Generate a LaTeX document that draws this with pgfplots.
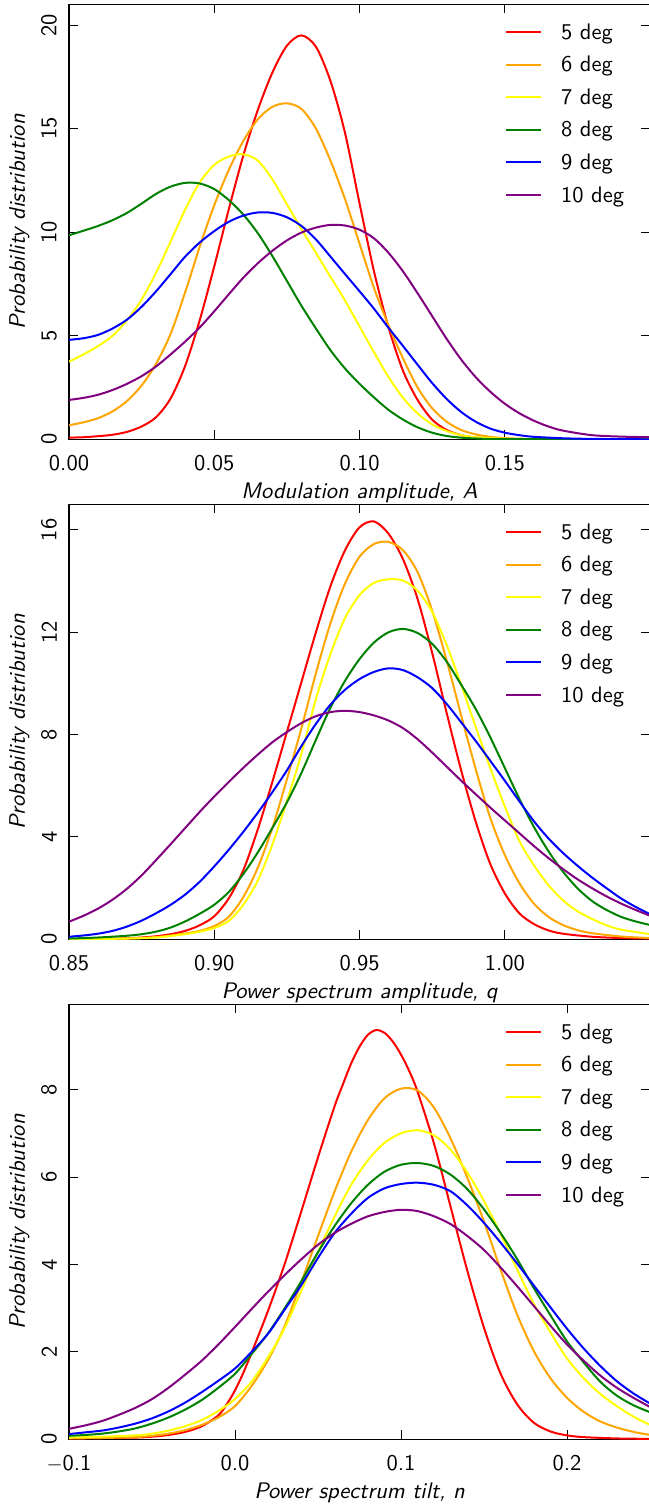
\documentclass[border=0pt]{standalone}
\usepackage{fontspec}
\setsansfont{lmsans10}[Extension=.otf, UprightFont=*-regular, ItalicFont=*-oblique, BoldFont=*-bold, BoldItalicFont=*-boldoblique]
\renewcommand{\familydefault}{\sfdefault}
\usepackage{pgfplots}
\pgfplotsset{compat=1.18}
\definecolor{cRed}{RGB}{255,0,0}
\definecolor{cOrange}{RGB}{255,165,0}
\definecolor{cYellow}{RGB}{255,255,0}
\definecolor{cGreen}{RGB}{0,128,0}
\definecolor{cBlue}{RGB}{0,0,255}
\definecolor{cPurple}{RGB}{128,0,128}
\newcommand{\fs}{\fontsize{22.5bp}{27bp}\selectfont}
\pgfplotsset{
  panel/.style={
    scale only axis, width=581bp, height=435bp,
    axis line style={line width=1.5bp},
    tick align=inside, major tick length=9bp,
    every tick/.style={black, line width=1bp},
    tick label style={font=\fs, inner sep=0pt},
    label style={font=\fs\itshape, inner sep=0pt},
    xticklabel style={anchor=north},
    xticklabel shift=16bp,
    yticklabel style={rotate=90, anchor=south},
    yticklabel shift=12bp,
    xlabel style={at={(axis description cs:0.5,0)}, anchor=base, yshift=-59.2bp},
    ylabel style={at={(axis description cs:-0.1033,0.5)}, anchor=north},
    ylabel={Probability distribution},
    legend cell align=left,
    legend image code/.code={\draw[#1, line width=2bp] (0bp,0bp) -- (35bp,0bp);},
    legend style={font=\fs, draw=none, fill=none, at={(axis description cs:0.7504,1)}, anchor=north west, yshift=-17bp, inner sep=0pt, row sep=11.5bp,
      /tikz/every odd column/.append style={column sep=17bp}},
    every axis plot/.append style={line width=2bp, smooth, tension=0.5},
  }
}
\begin{document}
\begin{tikzpicture}[x=1bp,y=1bp]
% ---------------- Panel 1 ----------------
\begin{axis}[panel, at={(69bp,-439.3bp)}, anchor=south west,
  xmin=0, xmax=0.2, ymin=0, ymax=21,
  xtick={0,0.05,0.1,0.15}, xticklabels={0.00,0.05,0.10,0.15},
  ytick={0,5,10,15,20}, yticklabels={0,5,10,15,20},
  xlabel={Modulation amplitude, A}]
\addplot[cRed] coordinates {(0,0.08)(0.005,0.10)(0.01,0.15)(0.015,0.22)(0.02,0.36)(0.025,0.62)(0.03,1.07)(0.035,1.98)(0.04,3.55)(0.045,5.75)(0.05,8.35)(0.055,11.1)(0.06,13.7)(0.065,15.9)(0.07,17.7)(0.075,19.0)(0.08,19.5)(0.085,18.95)(0.09,17.3)(0.095,14.8)(0.1,11.4)(0.105,8.1)(0.11,5.4)(0.115,3.3)(0.12,1.9)(0.125,0.95)(0.13,0.45)(0.135,0.2)(0.14,0.09)(0.15,0.02)(0.16,0)(0.2,0)};
\addlegendentry{5 deg}
\addplot[cOrange] coordinates {(0,0.68)(0.005,0.82)(0.01,1.02)(0.015,1.35)(0.02,1.85)(0.025,2.6)(0.03,3.65)(0.035,5.1)(0.04,7.1)(0.045,9.3)(0.05,11.3)(0.055,13.0)(0.06,14.4)(0.065,15.45)(0.07,16.05)(0.075,16.22)(0.08,15.95)(0.085,15.0)(0.09,13.45)(0.095,11.6)(0.1,9.45)(0.105,7.3)(0.11,5.5)(0.115,3.9)(0.12,2.5)(0.125,1.5)(0.13,0.85)(0.135,0.45)(0.14,0.24)(0.145,0.12)(0.15,0.06)(0.16,0.02)(0.2,0)};
\addlegendentry{6 deg}
\addplot[cYellow] coordinates {(0,3.75)(0.005,4.1)(0.01,4.5)(0.015,5.0)(0.02,5.75)(0.025,6.75)(0.03,8.05)(0.035,9.55)(0.04,11.1)(0.045,12.4)(0.05,13.25)(0.055,13.65)(0.06,13.76)(0.065,13.45)(0.07,12.55)(0.075,11.35)(0.08,10.15)(0.085,9.0)(0.09,7.85)(0.095,6.7)(0.1,5.45)(0.105,4.2)(0.11,3.0)(0.115,2.0)(0.12,1.25)(0.125,0.72)(0.13,0.4)(0.135,0.2)(0.14,0.1)(0.15,0.03)(0.16,0)(0.2,0)};
\addlegendentry{7 deg}
\addplot[cGreen] coordinates {(0,9.85)(0.005,10.07)(0.01,10.3)(0.015,10.58)(0.02,10.93)(0.025,11.38)(0.03,11.85)(0.035,12.2)(0.04,12.38)(0.045,12.35)(0.05,12.08)(0.055,11.55)(0.06,10.85)(0.065,9.95)(0.07,8.85)(0.075,7.65)(0.08,6.45)(0.085,5.35)(0.09,4.3)(0.095,3.42)(0.1,2.68)(0.105,2.02)(0.11,1.42)(0.115,0.95)(0.12,0.58)(0.125,0.32)(0.13,0.16)(0.135,0.08)(0.14,0.04)(0.15,0.01)(0.2,0)};
\addlegendentry{8 deg}
\addplot[cBlue] coordinates {(0,4.8)(0.005,4.88)(0.01,5.04)(0.015,5.35)(0.02,5.78)(0.025,6.4)(0.03,7.15)(0.035,7.98)(0.04,8.82)(0.045,9.5)(0.05,10.05)(0.055,10.5)(0.06,10.8)(0.065,10.95)(0.07,10.93)(0.075,10.72)(0.08,10.3)(0.085,9.65)(0.09,8.82)(0.095,7.98)(0.1,7.15)(0.105,6.3)(0.11,5.38)(0.115,4.5)(0.12,3.6)(0.125,2.72)(0.13,1.95)(0.135,1.32)(0.14,0.85)(0.145,0.52)(0.15,0.32)(0.155,0.2)(0.16,0.12)(0.17,0.05)(0.18,0.02)(0.2,0)};
\addlegendentry{9 deg}
\addplot[cPurple] coordinates {(0,1.9)(0.005,2.0)(0.01,2.15)(0.015,2.38)(0.02,2.68)(0.025,3.05)(0.03,3.52)(0.035,4.1)(0.04,4.72)(0.045,5.4)(0.05,6.18)(0.055,7.0)(0.06,7.8)(0.065,8.5)(0.07,9.1)(0.075,9.6)(0.08,9.98)(0.085,10.22)(0.09,10.35)(0.095,10.32)(0.1,10.12)(0.105,9.7)(0.11,9.0)(0.115,8.1)(0.12,7.05)(0.125,5.95)(0.13,4.85)(0.135,3.85)(0.14,3.0)(0.145,2.3)(0.15,1.72)(0.155,1.26)(0.16,0.9)(0.165,0.62)(0.17,0.42)(0.18,0.2)(0.19,0.13)(0.2,0.1)};
\addlegendentry{10 deg}
\end{axis}
% ---------------- Panel 2 ----------------
\begin{axis}[panel, at={(69bp,-939.3bp)}, anchor=south west,
  xmin=0.85, xmax=1.05, ymin=0, ymax=17,
  xtick={0.85,0.9,0.95,1.0}, xticklabels={0.85,0.90,0.95,1.00},
  ytick={0,4,8,12,16}, yticklabels={0,4,8,12,16},
  xlabel={Power spectrum amplitude, q}]
\addplot[cRed] coordinates {(0.85,0)(0.86,0.01)(0.87,0.04)(0.875,0.07)(0.88,0.12)(0.885,0.2)(0.89,0.33)(0.895,0.55)(0.9,0.9)(0.905,1.6)(0.91,2.7)(0.915,4.3)(0.92,6.15)(0.925,8.1)(0.93,10.05)(0.935,12.0)(0.94,13.8)(0.945,15.2)(0.95,16.1)(0.955,16.33)(0.96,15.85)(0.965,14.85)(0.97,13.3)(0.975,11.2)(0.98,8.85)(0.985,6.6)(0.99,4.6)(0.995,2.95)(1.0,1.8)(1.005,1.02)(1.01,0.6)(1.015,0.35)(1.02,0.22)(1.03,0.1)(1.04,0.05)(1.05,0.03)};
\addlegendentry{5 deg}
\addplot[cOrange] coordinates {(0.85,0)(0.87,0.03)(0.88,0.09)(0.885,0.15)(0.89,0.23)(0.895,0.33)(0.9,0.52)(0.905,0.88)(0.91,1.65)(0.915,2.8)(0.92,4.35)(0.925,6.25)(0.93,8.25)(0.935,10.4)(0.94,12.35)(0.945,13.9)(0.95,14.95)(0.955,15.45)(0.96,15.53)(0.965,15.2)(0.97,14.35)(0.975,12.85)(0.98,10.9)(0.985,8.75)(0.99,6.65)(0.995,4.75)(1.0,3.3)(1.005,2.2)(1.01,1.4)(1.015,0.88)(1.02,0.56)(1.025,0.36)(1.03,0.24)(1.04,0.11)(1.05,0.05)};
\addlegendentry{6 deg}
\addplot[cYellow] coordinates {(0.85,0)(0.87,0.03)(0.88,0.07)(0.89,0.2)(0.895,0.3)(0.9,0.44)(0.905,0.72)(0.91,1.35)(0.915,2.3)(0.92,3.7)(0.925,5.4)(0.93,7.25)(0.935,9.4)(0.94,11.15)(0.945,12.55)(0.95,13.45)(0.955,13.93)(0.96,14.07)(0.965,14.02)(0.97,13.62)(0.975,12.8)(0.98,11.5)(0.985,9.95)(0.99,8.3)(0.995,6.7)(1.0,5.2)(1.005,3.85)(1.01,2.9)(1.015,2.12)(1.02,1.53)(1.025,1.1)(1.03,0.8)(1.035,0.55)(1.04,0.38)(1.05,0.2)};
\addlegendentry{7 deg}
\addplot[cGreen] coordinates {(0.85,0.03)(0.86,0.07)(0.87,0.14)(0.875,0.2)(0.88,0.3)(0.885,0.46)(0.89,0.7)(0.895,1.0)(0.9,1.35)(0.905,1.85)(0.91,2.55)(0.915,3.4)(0.92,4.35)(0.925,5.35)(0.93,6.5)(0.935,7.8)(0.94,9.05)(0.945,10.1)(0.95,10.95)(0.955,11.6)(0.96,12.0)(0.965,12.13)(0.97,11.97)(0.975,11.55)(0.98,10.85)(0.985,9.95)(0.99,9.0)(0.995,7.9)(1.0,6.7)(1.005,5.5)(1.01,4.4)(1.015,3.45)(1.02,2.65)(1.025,2.0)(1.03,1.5)(1.035,1.15)(1.04,0.88)(1.045,0.7)(1.05,0.56)};
\addlegendentry{8 deg}
\addplot[cBlue] coordinates {(0.85,0.1)(0.855,0.15)(0.86,0.22)(0.865,0.33)(0.87,0.5)(0.875,0.73)(0.88,1.02)(0.885,1.35)(0.89,1.75)(0.895,2.25)(0.9,2.85)(0.905,3.5)(0.91,4.2)(0.915,4.95)(0.92,5.75)(0.925,6.6)(0.93,7.55)(0.935,8.42)(0.94,9.17)(0.945,9.75)(0.95,10.17)(0.955,10.45)(0.96,10.59)(0.965,10.52)(0.97,10.24)(0.975,9.82)(0.98,9.2)(0.985,8.48)(0.99,7.75)(0.995,6.98)(1.0,6.2)(1.005,5.4)(1.01,4.62)(1.015,3.95)(1.02,3.38)(1.025,2.88)(1.03,2.42)(1.035,2.0)(1.04,1.6)(1.045,1.27)(1.05,0.98)};
\addlegendentry{9 deg}
\addplot[cPurple] coordinates {(0.85,0.69)(0.855,0.92)(0.86,1.2)(0.865,1.55)(0.87,1.98)(0.875,2.5)(0.88,3.1)(0.885,3.72)(0.89,4.35)(0.895,4.98)(0.9,5.58)(0.905,6.15)(0.91,6.7)(0.915,7.22)(0.92,7.7)(0.925,8.1)(0.93,8.45)(0.935,8.72)(0.94,8.88)(0.945,8.93)(0.95,8.88)(0.955,8.75)(0.96,8.55)(0.965,8.25)(0.97,7.82)(0.975,7.3)(0.98,6.75)(0.985,6.2)(0.99,5.67)(0.995,5.15)(1.0,4.65)(1.005,4.15)(1.01,3.65)(1.015,3.18)(1.02,2.75)(1.025,2.35)(1.03,2.0)(1.035,1.68)(1.04,1.4)(1.045,1.15)(1.05,0.92)};
\addlegendentry{10 deg}
\end{axis}
% ---------------- Panel 3 ----------------
\begin{axis}[panel, at={(69bp,-1439.3bp)}, anchor=south west,
  xmin=-0.1, xmax=0.25, ymin=0, ymax=9.95,
  xtick={-0.1,0,0.1,0.2}, xticklabels={$-$0.1,0.0,0.1,0.2},
  ytick={0,2,4,6,8}, yticklabels={0,2,4,6,8},
  xlabel={Power spectrum tilt, n}]
\addplot[cRed] coordinates {(-0.1,0.02)(-0.08,0.03)(-0.06,0.04)(-0.05,0.06)(-0.04,0.1)(-0.03,0.17)(-0.02,0.3)(-0.01,0.55)(-0.005,0.8)(0,1.12)(0.005,1.52)(0.01,1.98)(0.02,2.95)(0.03,4.02)(0.04,5.22)(0.05,6.45)(0.06,7.62)(0.065,8.12)(0.07,8.6)(0.075,8.98)(0.08,9.25)(0.085,9.36)(0.09,9.3)(0.095,9.1)(0.1,8.8)(0.105,8.42)(0.11,7.95)(0.12,6.75)(0.13,5.3)(0.14,3.85)(0.15,2.55)(0.16,1.5)(0.17,0.8)(0.18,0.38)(0.19,0.18)(0.2,0.09)(0.21,0.05)(0.23,0.02)(0.25,0.01)};
\addlegendentry{5 deg}
\addplot[cOrange] coordinates {(-0.1,0.02)(-0.08,0.03)(-0.06,0.05)(-0.05,0.08)(-0.04,0.13)(-0.03,0.21)(-0.02,0.33)(-0.01,0.5)(0,0.76)(0.01,1.22)(0.02,1.82)(0.03,2.6)(0.04,3.6)(0.05,4.65)(0.06,5.67)(0.07,6.58)(0.08,7.3)(0.09,7.8)(0.1,8.02)(0.11,7.98)(0.12,7.58)(0.13,6.87)(0.14,5.98)(0.15,4.98)(0.16,3.88)(0.17,2.85)(0.18,2.02)(0.19,1.4)(0.2,0.95)(0.21,0.63)(0.22,0.41)(0.23,0.27)(0.24,0.17)(0.25,0.1)};
\addlegendentry{6 deg}
\addplot[cYellow] coordinates {(-0.1,0.04)(-0.08,0.06)(-0.06,0.09)(-0.05,0.13)(-0.04,0.2)(-0.03,0.3)(-0.02,0.44)(-0.01,0.65)(0,0.92)(0.01,1.32)(0.02,1.88)(0.03,2.55)(0.04,3.4)(0.05,4.28)(0.06,5.1)(0.07,5.82)(0.08,6.38)(0.09,6.78)(0.1,7.0)(0.11,7.07)(0.12,6.95)(0.13,6.62)(0.14,6.1)(0.15,5.45)(0.16,4.7)(0.17,3.88)(0.18,3.1)(0.19,2.45)(0.2,1.85)(0.21,1.4)(0.22,1.04)(0.23,0.76)(0.24,0.52)(0.25,0.33)};
\addlegendentry{7 deg}
\addplot[cGreen] coordinates {(-0.1,0.08)(-0.09,0.1)(-0.08,0.13)(-0.07,0.18)(-0.06,0.25)(-0.05,0.36)(-0.04,0.5)(-0.03,0.68)(-0.02,0.9)(-0.01,1.18)(0,1.5)(0.01,1.95)(0.02,2.43)(0.03,3.0)(0.04,3.62)(0.05,4.28)(0.06,4.88)(0.07,5.4)(0.08,5.82)(0.09,6.12)(0.1,6.28)(0.11,6.32)(0.12,6.25)(0.13,6.05)(0.14,5.72)(0.15,5.26)(0.16,4.72)(0.17,4.12)(0.18,3.46)(0.19,2.84)(0.2,2.24)(0.21,1.76)(0.22,1.32)(0.23,1.0)(0.24,0.78)(0.25,0.62)};
\addlegendentry{8 deg}
\addplot[cBlue] coordinates {(-0.1,0.12)(-0.09,0.16)(-0.08,0.2)(-0.07,0.27)(-0.06,0.36)(-0.05,0.48)(-0.04,0.64)(-0.03,0.84)(-0.02,1.08)(-0.01,1.34)(0,1.62)(0.01,2.0)(0.02,2.42)(0.03,2.97)(0.04,3.53)(0.05,4.15)(0.06,4.72)(0.07,5.16)(0.08,5.52)(0.09,5.74)(0.1,5.84)(0.11,5.87)(0.12,5.82)(0.13,5.67)(0.14,5.35)(0.15,4.95)(0.16,4.5)(0.17,4.02)(0.18,3.52)(0.19,3.02)(0.2,2.53)(0.21,2.08)(0.22,1.68)(0.23,1.33)(0.24,1.05)(0.25,0.82)};
\addlegendentry{9 deg}
\addplot[cPurple] coordinates {(-0.1,0.24)(-0.09,0.32)(-0.08,0.42)(-0.07,0.56)(-0.06,0.72)(-0.05,0.92)(-0.04,1.18)(-0.03,1.48)(-0.02,1.8)(-0.01,2.17)(0,2.57)(0.01,2.98)(0.02,3.38)(0.03,3.76)(0.04,4.12)(0.05,4.45)(0.06,4.72)(0.07,4.93)(0.08,5.1)(0.09,5.2)(0.1,5.25)(0.11,5.22)(0.12,5.1)(0.13,4.92)(0.14,4.65)(0.15,4.33)(0.16,3.93)(0.17,3.5)(0.18,3.05)(0.19,2.6)(0.2,2.17)(0.21,1.8)(0.22,1.46)(0.23,1.18)(0.24,0.95)(0.25,0.74)};
\addlegendentry{10 deg}
\end{axis}
\pgfresetboundingbox
\path[use as bounding box] (0,0) rectangle (649bp,-1506bp);
\end{tikzpicture}
\end{document}
